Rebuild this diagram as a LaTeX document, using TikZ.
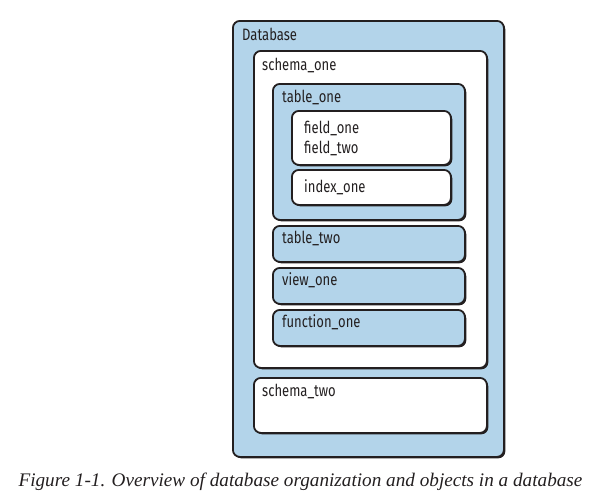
\documentclass[tikz,border=0pt]{standalone}
\usepackage{fontspec}
\setmainfont{Liberation Serif}
\newfontfamily\boxfont[FakeStretch=0.79]{Fira Sans}
\usetikzlibrary{shadows}
\definecolor{dbblue}{HTML}{B3D4EA}
\definecolor{edge}{HTML}{231F20}
\tikzset{
  frame/.style={draw=edge, line width=1.8pt, rounded corners=7pt, anchor=north west,
    inner sep=0pt, drop shadow={shadow xshift=1.4pt, shadow yshift=-1.4pt, fill=edge, opacity=1}},
  bluebox/.style={frame, fill=dbblue},
  whitebox/.style={frame, fill=white},
  lbl/.style={anchor=west, inner sep=0pt, font=\boxfont\fontsize{16.5}{19}\selectfont, text=edge},
}
\begin{document}
\begin{tikzpicture}[x=1pt, y=-1pt]
\useasboundingbox (0,0) rectangle (604,499);
% boxes
\node[bluebox, minimum width=271pt, minimum height=436pt] (db) at (232,20) {};
\node[whitebox, minimum width=233pt, minimum height=317pt] (s1) at (253,50) {};
\node[bluebox, minimum width=192pt, minimum height=136pt] (t1) at (272,83) {};
\node[whitebox, minimum width=159pt, minimum height=54pt] (fl) at (291,110) {};
\node[whitebox, minimum width=159pt, minimum height=35pt] (ix) at (291,169) {};
\node[bluebox, minimum width=192pt, minimum height=36pt] (t2) at (272,225) {};
\node[bluebox, minimum width=192pt, minimum height=36pt] (v1) at (272,267) {};
\node[bluebox, minimum width=192pt, minimum height=36pt] (f1) at (272,309) {};
\node[whitebox, minimum width=233pt, minimum height=55pt] (s2) at (253,377) {};
% labels
\node[lbl] (ldb) at (242,34) {Database};
\node[lbl] (ls1) at (262,65) {schema\_one};
\node[lbl] (lt1) at (282,97) {table\_one};
\node[lbl] (lf1) at (304,128) {field\_one};
\node[lbl] (lf2) at (304,148) {field\_two};
\node[lbl] (lix) at (304,187) {index\_one};
\node[lbl] (lt2) at (282,238) {table\_two};
\node[lbl] (lv1) at (282,280) {view\_one};
\node[lbl] (lfn) at (282,322) {function\_one};
\node[lbl] (ls2) at (262,391) {schema\_two};
% caption
\node[inner sep=0pt, anchor=base, font=\itshape\fontsize{19.2}{22}\selectfont, text=edge] (cap) at (300.5,486)
  {Figure 1-1. Overview of database organization and objects in a database};
\end{tikzpicture}
\end{document}
